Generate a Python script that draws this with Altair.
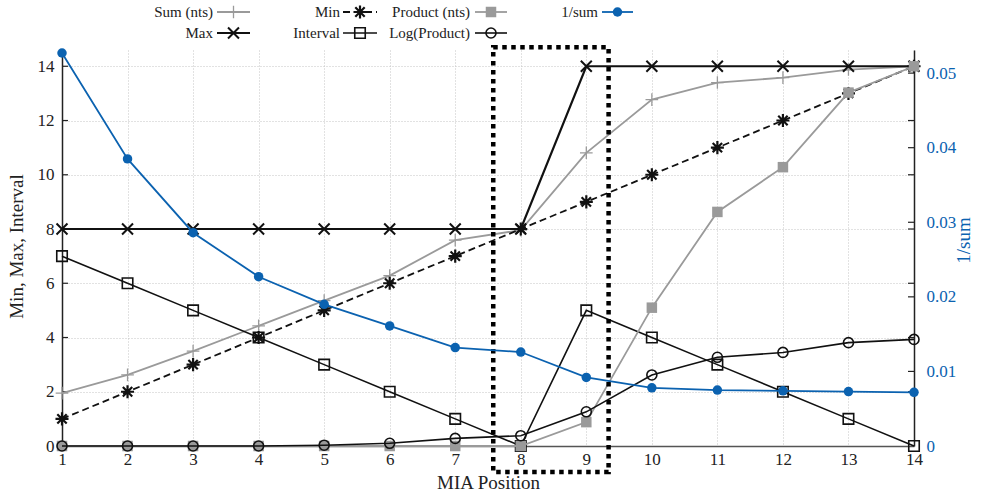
import altair as alt
import pandas as pd

# ---------------- data ----------------
positions = list(range(1, 15))
sum_nts = [1.95, 2.62, 3.5, 4.43, 5.36, 6.28, 7.59, 7.96, 10.81, 12.77, 13.4, 13.58, 13.88, 14.0]
max_v = [8, 8, 8, 8, 8, 8, 8, 8, 14, 14, 14, 14, 14, 14]
min_v = [1, 2, 3, 4, 5, 6, 7, 8, 9, 10, 11, 12, 13, 14]
interval_v = [7, 6, 5, 4, 3, 2, 1, 0, 5, 4, 3, 2, 1, 0]
product_nts = [0, 0, 0, 0, 0, 0, 0, 0, 0.88, 5.1, 8.63, 10.28, 13.03, 14.0]
log_product = [0, 0, 0, 0, 0.03, 0.1, 0.28, 0.38, 1.26, 2.62, 3.27, 3.45, 3.81, 3.93]
inv_sum = [0.0527, 0.0385, 0.0286, 0.0227, 0.019, 0.0161, 0.0132, 0.0126,
           0.0092, 0.0078, 0.0075, 0.0074, 0.0073, 0.0072]

left_ticks = [0, 2, 4, 6, 8, 10, 12, 14]
right_ticks = [0, 0.01, 0.02, 0.03, 0.04, 0.05]

legend_labels = ["Sum (nts)", "Min", "Product (nts)", "1/sum",
                 "Max", "Interval", "Log(Product)"]

# highlight box (data units)
BOX_X = (7.58, 9.34)
BOX_Y = (-0.96, 14.70)

# ---------------- style ----------------
FONT = "Liberation Serif"
LEGEND_FONT = "Liberation Serif, Times New Roman, serif"
BLUE = "#0b62b0"
GREY = "#9a9a9a"
BLACK = "#111111"
W, H = 852, 396

PLUS = "M-1,0L1,0M0,-1L0,1"
CROSS = "M-1,-1L1,1M-1,1L1,-1"
STAR = "M-1,0L1,0M0,-1L0,1M-0.72,-0.72L0.72,0.72M-0.72,0.72L0.72,-0.72"

xscale = alt.Scale(domain=[1, 14], nice=False, zero=False)
yscale = alt.Scale(domain=[0, 14.6], nice=False, zero=False)
rscale = alt.Scale(domain=[0, 0.0531], nice=False, zero=False)

xaxis = alt.Axis(values=positions, title="MIA Position", format="d",
                 grid=True, gridDash=[1, 2], gridColor="#c4c4c4", gridWidth=1,
                 domainColor="#555555", domainWidth=1.5, tickSize=0,
                 labelPadding=5, labelFont=FONT, labelFontSize=17, labelColor="#222222",
                 labelFlush=False, labelOverlap=False,
                 titleFont=FONT, titleFontSize=19, titleFontWeight="normal",
                 titleColor="#222222", titleY=42, titleBaseline="alphabetic")

yaxis = alt.Axis(values=left_ticks, title="Min, Max, Interval", format="d",
                 grid=True, gridDash=[1, 2], gridColor="#c4c4c4", gridWidth=1,
                 domainColor="#222222", domainWidth=1.5, tickSize=0,
                 labelPadding=8, labelFont=FONT, labelFontSize=17, labelColor="#222222",
                 labelFlush=False, labelOverlap=False,
                 titleFont=FONT, titleFontSize=19, titleFontWeight="normal",
                 titleColor="#222222", titleAngle=270, titleX=-40, titleY=196,
                 titleAlign="center", titleBaseline="alphabetic")

raxis = alt.Axis(values=right_ticks, title="1/sum", format=".2~f", orient="right",
                 grid=False, domainColor="#222222", domainWidth=1.5, tickSize=0,
                 labelPadding=12, labelFont=FONT, labelFontSize=17, labelColor=BLUE,
                 labelFlush=False, labelOverlap=False,
                 titleFont=FONT, titleFontSize=19, titleFontWeight="normal",
                 titleColor=BLUE, titleAngle=270, titleX=55, titleY=190,
                 titleAlign="center", titleBaseline="alphabetic")

styles = {
    "Sum (nts)": dict(color=GREY, width=1.8, shape=PLUS, filled=False, size=160, mstroke=1.3),
    "Max": dict(color=BLACK, width=2.2, shape=CROSS, filled=False, size=120, mstroke=2.0),
    "Min": dict(color=BLACK, width=1.8, dash=[7, 4], shape=STAR, filled=False, size=170, mstroke=2.2),
    "Interval": dict(color=BLACK, width=1.6, shape="square", filled=False, size=110, mstroke=1.6),
    "Product (nts)": dict(color=GREY, width=1.8, shape="square", filled=True, size=110),
    "Log(Product)": dict(color=BLACK, width=1.6, shape="circle", filled=False, size=100, mstroke=1.6),
    "1/sum": dict(color=BLUE, width=1.8, shape="circle", filled=True, size=90),
}


def line_kwargs(st):
    kw = dict(color=st["color"], strokeWidth=st["width"])
    if "dash" in st:
        kw["strokeDash"] = st["dash"]
    return kw


def point_kwargs(st):
    kw = dict(shape=st["shape"], size=st["size"], opacity=1)
    if st["filled"]:
        kw.update(filled=True, color=st["color"], strokeWidth=0)
    else:
        kw.update(filled=False, stroke=st["color"], strokeWidth=st["mstroke"], color=st["color"])
    return kw


def series(name, values, scale, axis):
    st = styles[name]
    df = pd.DataFrame({"pos": positions, "value": values})
    base = alt.Chart(df).encode(
        x=alt.X("pos:Q", scale=xscale, axis=xaxis),
        y=alt.Y("value:Q", scale=scale, axis=axis),
    )
    return base.mark_line(**line_kwargs(st)) + base.mark_point(**point_kwargs(st))


left_layers = []
for name, vals in [("Sum (nts)", sum_nts), ("Max", max_v), ("Min", min_v),
                   ("Interval", interval_v), ("Product (nts)", product_nts),
                   ("Log(Product)", log_product)]:
    left_layers.append(series(name, vals, yscale, yaxis))

# inward ticks on left and right edges for the left scale
tick_df = pd.DataFrame({"v": left_ticks[1:]})
left_in_ticks = alt.Chart(tick_df).mark_rule(color="#222222", strokeWidth=1.2).encode(
    x=alt.value(0), x2=alt.value(6), y=alt.Y("v:Q", scale=yscale, axis=yaxis))
right_in_ticks_l = alt.Chart(tick_df).mark_rule(color="#222222", strokeWidth=1.2).encode(
    x=alt.value(W - 6), x2=alt.value(W), y=alt.Y("v:Q", scale=yscale, axis=yaxis))

# highlight box
box_df = pd.DataFrame({"x": [BOX_X[0]], "x2": [BOX_X[1]], "y": [BOX_Y[1]], "y2": [BOX_Y[0]]})
box = alt.Chart(box_df).mark_rect(fill="white", fillOpacity=0, stroke="black",
                                  strokeWidth=4.5, strokeDash=[4.5, 4.5], clip=False).encode(
    x=alt.X("x:Q", scale=xscale, axis=xaxis), x2="x2:Q",
    y=alt.Y("y:Q", scale=yscale, axis=yaxis), y2="y2:Q")

# custom legend (pixel layout relative to plot origin)
legend_grid = [(0, 0), (1, 0), (2, 0), (3, 0), (0, 1), (1, 1), (2, 1)]
col_text_end = [151, 278, 408, 536]
col_line = [(155, 188), (281, 315), (413, 445), (540, 571)]
row_y = [-38, -17]

legend_layers = []
one = pd.DataFrame({"k": [0]})
for label, (c, r) in zip(legend_labels, legend_grid):
    st = styles[label]
    ydev = row_y[r]
    x1, x2 = col_line[c]
    legend_layers.append(
        alt.Chart(pd.DataFrame({"label": [label]})).mark_text(
            align="right", baseline="middle", font=LEGEND_FONT, fontSize=15,
            fontStyle="normal", fontWeight="normal", color="#222222"
        ).encode(x=alt.value(col_text_end[c]), y=alt.value(ydev), text="label:N"))
    legend_layers.append(
        alt.Chart(one).mark_rule(**line_kwargs(st)).encode(
            x=alt.value(x1), x2=alt.value(x2), y=alt.value(ydev)))
    legend_layers.append(
        alt.Chart(one).mark_point(**point_kwargs(st)).encode(
            x=alt.value((x1 + x2) / 2), y=alt.value(ydev)))

left = alt.layer(left_in_ticks, right_in_ticks_l, *left_layers, box, *legend_layers)

rtick_df = pd.DataFrame({"v": right_ticks[1:]})
right_in_ticks_r = alt.Chart(rtick_df).mark_rule(color="#222222", strokeWidth=1.2).encode(
    x=alt.value(W - 6), x2=alt.value(W), y=alt.Y("v:Q", scale=rscale, axis=raxis))
right = alt.layer(right_in_ticks_r, series("1/sum", inv_sum, rscale, raxis))

chart = (
    alt.layer(left, right)
    .resolve_scale(y="independent")
    .properties(
        width=W, height=H,
        autosize=alt.AutoSizeParams(type="none"),
        padding={"left": 62, "top": 50, "right": 68, "bottom": 51},
    )
    .configure(background="white", font=FONT)
    .configure_view(stroke=None)
    .configure_text(font=LEGEND_FONT)
)

chart.save("out.html", embed_options={"renderer": "svg", "actions": False})
